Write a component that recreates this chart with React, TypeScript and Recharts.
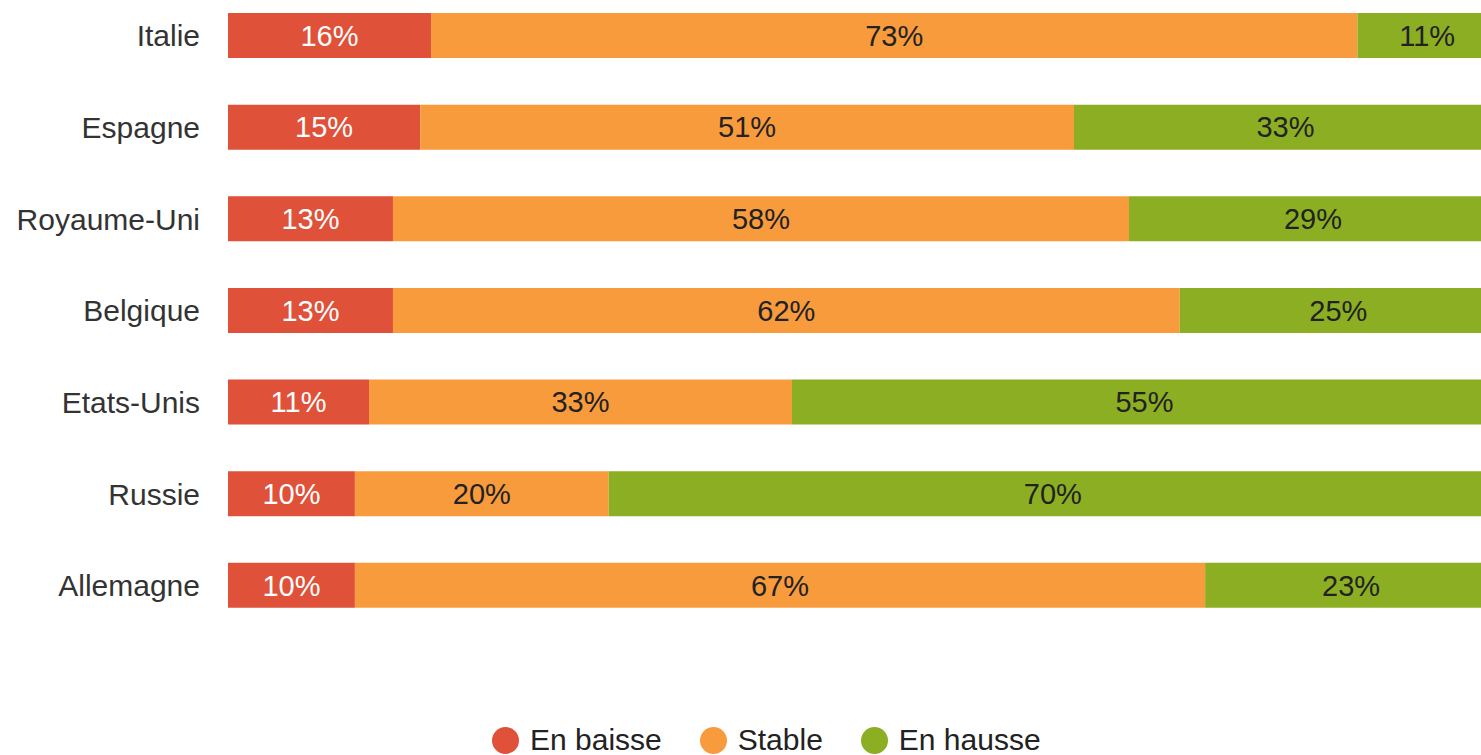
import React from 'react';
import { BarChart, Bar, XAxis, YAxis, Legend, LabelList } from 'recharts';

const countries = ['Italie', 'Espagne', 'Royaume-Uni', 'Belgique', 'Etats-Unis', 'Russie', 'Allemagne'];
const baisse = [16, 15, 13, 13, 11, 10, 10];
const stable = [73, 51, 58, 62, 33, 20, 67];
const hausse = [11, 33, 29, 25, 55, 70, 23];

const series = [
  { key: 'baisse', name: 'En baisse', color: '#df5139', label: '#ffffff' },
  { key: 'stable', name: 'Stable', color: '#f89b3d', label: '#222222' },
  { key: 'hausse', name: 'En hausse', color: '#8cae23', label: '#222222' },
];

const data = countries.map((country, i) => ({
  country,
  baisse: baisse[i],
  stable: stable[i],
  hausse: hausse[i],
}));

const font = '"Liberation Sans", Arial, sans-serif';

const renderLegend = () => (
  <div style={{ display: 'flex', alignItems: 'center', fontFamily: font, fontSize: 30, color: '#222', height: 30 }}>
    {series.map((s) => (
      <div key={s.key} style={{ display: 'flex', alignItems: 'center', marginRight: 38 }}>
        <span
          style={{ display: 'inline-block', width: 27, height: 27, borderRadius: '50%', background: s.color, marginRight: 11 }}
        />
        <span>{s.name}</span>
      </div>
    ))}
  </div>
);

export default function App() {
  return (
    <div style={{ position: 'absolute', left: 0, top: 0, width: 1481, height: 755, overflow: 'hidden', background: '#fff' }}>
      <div style={{ position: 'absolute', left: 0, top: -9.8 }}>
        <BarChart
          width={1497}
          height={775}
          data={data}
          layout="vertical"
          stackOffset="expand"
          margin={{ top: 0, right: 0, bottom: 133.6, left: 0 }}
        >
          <XAxis type="number" hide domain={[0, 1]} />
          <YAxis
            type="category"
            dataKey="country"
            width={228}
            axisLine={false}
            tickLine={false}
            tickSize={0}
            tickMargin={28}
            tick={{ fill: '#333', fontSize: 30, fontFamily: font }}
          />
          <Legend
            layout="horizontal"
            verticalAlign="middle"
            align="center"
            content={renderLegend}
            wrapperStyle={{ top: 735, left: 492, width: 'auto' }}
          />
          {series.map((s) => (
            <Bar key={s.key} dataKey={s.key} name={s.name} stackId="a" fill={s.color} barSize={45} isAnimationActive={false}>
              <LabelList
                dataKey={s.key}
                position="center"
                formatter={(v: any) => `${v}%`}
                fill={s.label}
                fontSize={29}
                fontFamily={font}
              />
            </Bar>
          ))}
        </BarChart>
      </div>
    </div>
  );
}
